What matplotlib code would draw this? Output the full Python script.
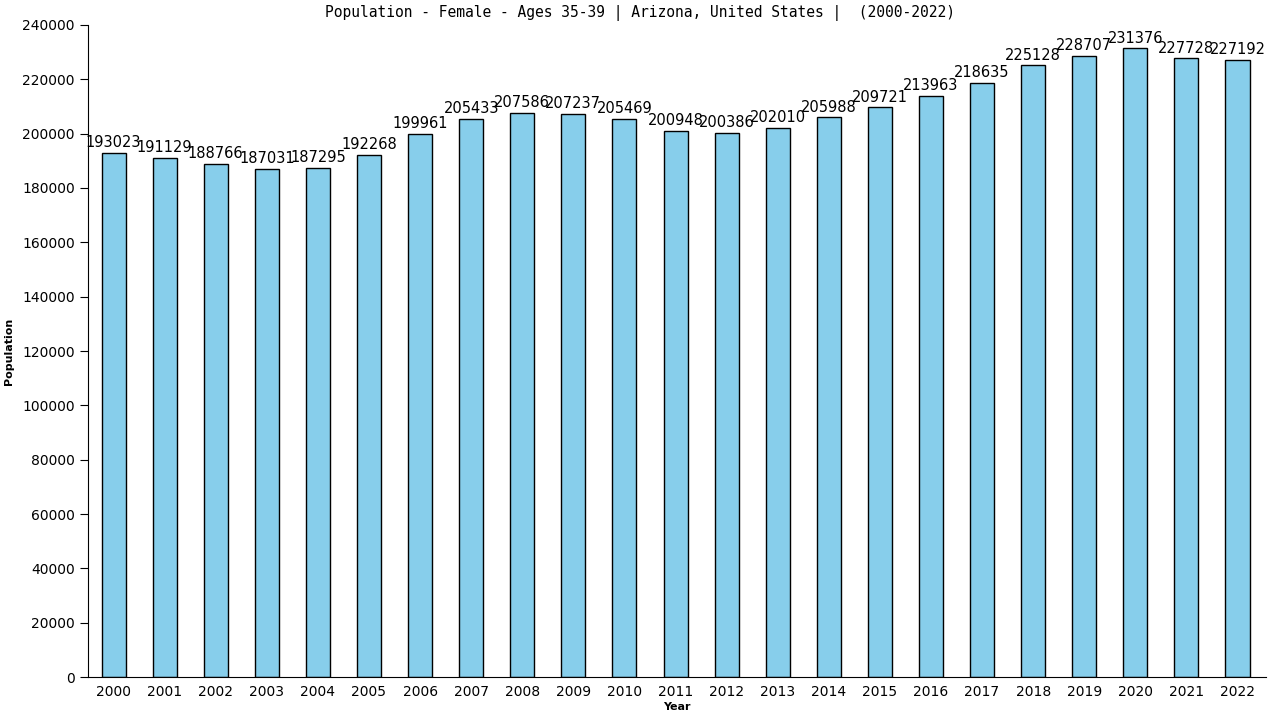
import matplotlib
matplotlib.use("Agg")
import matplotlib.pyplot as plt

years = list(range(2000, 2023))
population = [193023, 191129, 188766, 187031, 187295, 192268, 199961, 205433,
              207586, 207237, 205469, 200948, 200386, 202010, 205988, 209721,
              213963, 218635, 225128, 228707, 231376, 227728, 227192]
yticks = list(range(0, 240001, 20000))

fig = plt.figure(figsize=(12.8, 7.2), dpi=100)
ax = fig.add_axes([0.06875, 0.0597, 0.92, 0.9056])

x = list(range(len(years)))
ax.bar(x, population, width=0.47, color="#87CEEB", edgecolor="black", linewidth=1.0)

for xi, v in zip(x, population):
    ax.text(xi, v + 1000, str(v), ha="center", va="bottom", fontsize=10.5,
            family="DejaVu Sans")

ax.set_xlim(-0.5, 22.55)
ax.set_ylim(0, 240000)
ax.set_xticks(x)
ax.set_xticklabels([str(y) for y in years], fontsize=10)
ax.set_yticks(yticks)
ax.set_yticklabels([str(t) for t in yticks], fontsize=10)
ax.tick_params(axis="x", length=0, pad=6)
ax.tick_params(axis="y", length=6, direction="out")

for s in ["top", "right"]:
    ax.spines[s].set_visible(False)

fig.text(0.5, 0.982, "Population - Female - Ages 35-39 | Arizona, United States |  (2000-2022)",
         ha="center", va="center", fontsize=10.5, family="DejaVu Sans Mono")
ax.set_xlabel("Year", fontsize=8, fontweight="bold", labelpad=2)
ax.set_ylabel("Population", fontsize=8, fontweight="bold", labelpad=6)

fig.savefig("out.png", dpi=100)
